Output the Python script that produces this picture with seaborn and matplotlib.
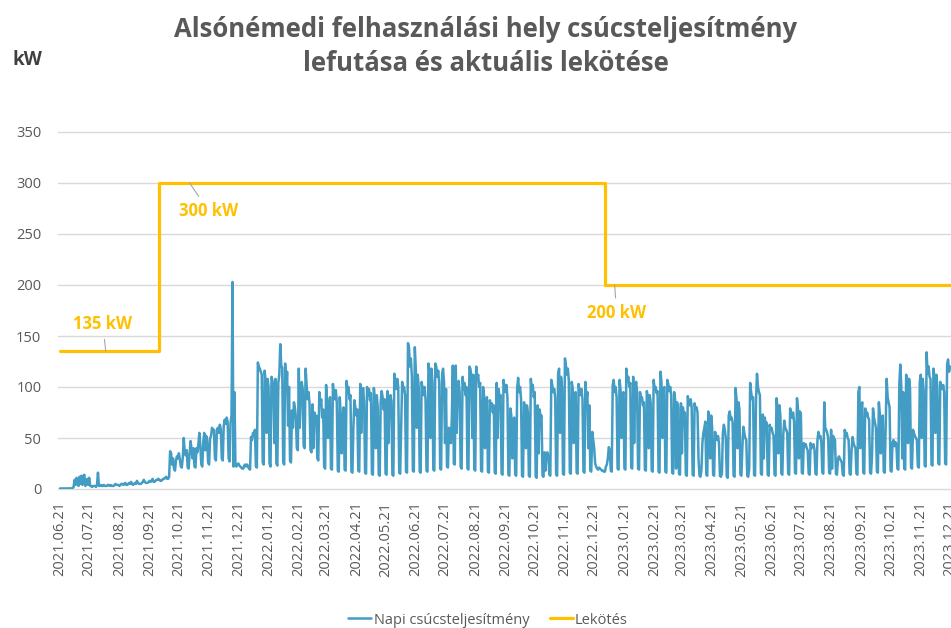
import numpy as np
import pandas as pd
import matplotlib
matplotlib.use("Agg")
import matplotlib.pyplot as plt
import matplotlib.dates as mdates
import seaborn as sns

# ---------------- data ----------------
title = "Alsónémedi felhasználási hely csúcsteljesítmény\nlefutása és aktuális lekötése"
series_names = ["Napi csúcsteljesítmény", "Lekötés"]
y_unit = "kW"
start_date = "2021-06-21"

# daily peak power (kW), one row = one week (Mon..Sun)
csucs_2021 = [
    0.5, 0.5, 0.5, 0.5, 0.5, 0.5, 0.5,
    0.5, 0.5, 0.5, 0.5, 0.5, 0.6, 1,
    2, 9, 4, 11, 6, 3, 12,
    5, 13, 4, 12, 14, 3, 8,
    10, 4, 11, 3, 3, 2, 3,
    3, 3, 2, 4, 16, 3, 3,
    4, 3, 3, 4, 3, 3, 3,
    4, 4, 3, 4, 3, 3, 3,
    4, 5, 4, 4, 4, 3, 4,
    5, 5, 4, 5, 6, 4, 4,
    5, 6, 5, 7, 5, 4, 5,
    6, 5, 8, 6, 5, 5, 5,
    6, 7, 9, 7, 6, 6, 6,
    7, 8, 7, 8, 10, 7, 7,
    8, 9, 9, 10, 9, 8, 8,
    9, 10, 10, 11, 12, 10, 10,
    12, 37, 35, 24, 30, 20, 18,
    28, 32, 30, 35, 29, 22, 21,
    31, 50, 36, 33, 38, 21, 20,
    35, 47, 38, 30, 40, 22, 21,
    40, 36, 44, 55, 42, 24, 22,
    46, 55, 38, 52, 48, 26, 24,
    50, 52, 60, 56, 58, 30, 28,
    58, 60, 55, 63, 59, 30, 28,
    62, 68, 64, 70, 66, 30, 27,
    65, 72, 203, 22, 95, 23, 22,
    24, 25, 23, 22, 21, 20, 20,
    23, 24, 22, 24, 22,
]
csucs_2022 = [
    20, 19,
    51, 48, 55, 53, 58, 22, 21,
    124, 120, 118, 115, 112, 26, 24,
    116, 104, 55, 108, 100, 25, 22,
    110, 106, 98, 45, 108, 25, 23,
    104, 112, 142, 121, 119, 26, 24,
    123, 96, 115, 62, 100, 28, 26,
    77, 60, 85, 80, 70, 40, 38,
    118, 60, 92, 105, 98, 42, 40,
    118, 102, 88, 95, 84, 38, 36,
    83, 40, 75, 68, 72, 30, 28,
    95, 82, 88, 70, 78, 22, 20,
    102, 85, 50, 80, 90, 20, 19,
    103, 92, 88, 97, 84, 18, 17,
    90, 74, 35, 68, 80, 19, 18,
    106, 95, 100, 88, 92, 17, 16,
    60, 87, 80, 72, 78, 18, 17,
    103, 55, 90, 99, 85, 16, 15,
    100, 92, 98, 87, 94, 15, 14,
    99, 88, 40, 92, 80, 14, 13,
    85, 96, 90, 78, 88, 15, 14,
    96, 45, 84, 92, 86, 14, 13,
    113, 105, 98, 108, 100, 16, 15,
    60, 105, 96, 100, 92, 17, 16,
    143, 139, 120, 128, 110, 18, 17,
    139, 118, 60, 112, 100, 17, 16,
    105, 98, 92, 100, 88, 18, 17,
    123, 115, 50, 118, 105, 19, 18,
    123, 120, 110, 116, 104, 20, 19,
    113, 118, 104, 45, 98, 22, 21,
    60, 55, 45, 70, 121, 25, 24,
    121, 55, 100, 106, 95, 22, 20,
    110, 98, 104, 92, 100, 20, 19,
    120, 118, 110, 50, 112, 19, 18,
    120, 108, 112, 100, 104, 18, 17,
    100, 92, 40, 85, 90, 17, 16,
    87, 80, 84, 75, 82, 16, 15,
    104, 50, 98, 88, 92, 15, 14,
    107, 100, 95, 102, 90, 14, 13,
    79, 72, 30, 68, 70, 14, 13,
    99, 109, 95, 100, 88, 13, 12,
    85, 80, 40, 82, 75, 13, 12,
    108, 98, 102, 90, 95, 12, 11,
    82, 35, 78, 70, 72, 13, 12,
    36, 18, 34, 36, 32, 14, 13,
    107, 102, 95, 98, 90, 14, 13,
    113, 118, 55, 110, 100, 15, 14,
    128, 121, 112, 118, 106, 16, 15,
    105, 98, 45, 92, 95, 16, 15,
    103, 96, 92, 98, 88, 17, 16,
    105, 87, 95, 40, 82, 18, 17,
    56, 48, 40, 25, 22, 20, 19,
    21, 20, 19, 18, 18, 17,
]
csucs_2023 = [
    17,
    22, 24, 30, 41, 38, 18, 17,
    102, 107, 95, 100, 90, 20, 19,
    107, 98, 50, 92, 95, 20, 19,
    118, 107, 110, 100, 104, 21, 20,
    110, 45, 98, 105, 95, 20, 19,
    95, 88, 90, 82, 85, 19, 18,
    96, 90, 40, 92, 84, 18, 17,
    107, 98, 100, 94, 96, 17, 16,
    115, 105, 50, 98, 100, 17, 16,
    107, 103, 96, 100, 92, 16, 15,
    95, 88, 20, 85, 80, 15, 14,
    84, 35, 80, 72, 75, 14, 13,
    91, 85, 82, 88, 80, 14, 13,
    84, 78, 80, 75, 30, 13, 12,
    19, 45, 55, 60, 66, 14, 13,
    76, 70, 30, 72, 60, 14, 13,
    56, 50, 48, 52, 45, 13, 12,
    15, 55, 63, 58, 50, 12, 11,
    72, 76, 68, 70, 65, 13, 12,
    99, 88, 40, 85, 78, 14, 13,
    41, 61, 55, 50, 48, 13, 12,
    20, 104, 95, 88, 90, 14, 13,
    87, 113, 100, 95, 92, 15, 14,
    73, 30, 70, 62, 65, 14, 13,
    63, 58, 60, 55, 52, 14, 13,
    89, 80, 35, 82, 72, 15, 14,
    54, 67, 60, 58, 55, 15, 14,
    79, 72, 70, 75, 66, 16, 15,
    89, 79, 30, 76, 74, 16, 15,
    45, 42, 44, 40, 38, 15, 14,
    45, 40, 42, 44, 38, 15, 14,
    48, 56, 50, 52, 46, 16, 15,
    85, 60, 58, 55, 50, 16, 15,
    58, 20, 52, 50, 48, 15, 14,
    29, 32, 30, 28, 26, 14, 13,
    58, 52, 55, 50, 48, 15, 14,
    38, 51, 45, 42, 40, 15, 14,
    95, 100, 40, 82, 85, 16, 15,
    79, 72, 75, 70, 68, 16, 15,
    33, 79, 70, 65, 60, 17, 16,
    85, 74, 35, 70, 72, 17, 16,
    64, 108, 90, 85, 80, 18, 17,
    45, 48, 42, 46, 44, 20, 19,
    103, 122, 100, 30, 95, 20, 19,
    112, 105, 45, 108, 98, 21, 20,
    58, 55, 52, 50, 48, 22, 21,
    105, 112, 50, 108, 96, 23, 22,
    134, 113, 120, 110, 108, 24, 23,
    118, 110, 55, 112, 100, 25, 24,
    105, 100, 98, 102, 95, 25, 24,
    122, 127, 115, 120,
]

# contracted capacity (step changes)
lekotes_dates = ["2021-06-21", "2021-10-01", "2023-01-01", "2023-12-21"]
lekotes_values = [135, 300, 200, 200]

# value labels on the contracted-capacity line
label_texts = ["135 kW", "300 kW", "200 kW"]
label_dates = ["2021-08-07", "2021-11-01", "2023-01-11"]
label_values = [135, 300, 200]

y_ticks = [0, 50, 100, 150, 200, 250, 300, 350]

# ---------------- styling ----------------
BLUE = "#439CC4"
YELLOW = "#FFC000"
GREY = "#595959"
GRID = "#D9D9D9"

sns.set_theme(style="white")
plt.rcParams["font.family"] = ["Open Sans", "DejaVu Sans"]

values = csucs_2021 + csucs_2022 + csucs_2023
dates = pd.date_range(start_date, periods=len(values), freq="D")
df = pd.DataFrame({"Dátum": dates, "kW": values})
lek = pd.DataFrame({"Dátum": pd.to_datetime(lekotes_dates), "kW": lekotes_values})

W, H = 951, 628
fig = plt.figure(figsize=(W / 100, H / 100), dpi=100)
ax = fig.add_axes([58 / W, 1 - 489 / H, 1 - 58 / W, (489 - 132) / H])

sns.lineplot(data=df, x="Dátum", y="kW", ax=ax, color=BLUE, lw=1.8,
             label=series_names[0])
sns.lineplot(data=lek, x="Dátum", y="kW", ax=ax, color=YELLOW, lw=2.3,
             drawstyle="steps-post", label=series_names[1])

ax.set_xlim(pd.Timestamp("2021-06-19"), pd.Timestamp("2023-12-22"))
ax.set_ylim(0, 350)
ax.set_yticks(y_ticks)
ax.set_xlabel("")
ax.set_ylabel("")
for s in ax.spines.values():
    s.set_visible(False)
ax.yaxis.grid(True, color=GRID, lw=1.0)
ax.xaxis.grid(False)
for gl in ax.get_ygridlines():
    gl.set_clip_on(False)
ax.set_axisbelow(True)

ax.xaxis.set_major_locator(mdates.DayLocator(bymonthday=21))
ax.xaxis.set_major_formatter(mdates.DateFormatter("%Y.%m.%d"))
ax.tick_params(axis="x", length=0, pad=9, labelsize=10.5, labelcolor=GREY,
               labelrotation=90)
ax.tick_params(axis="y", length=0, pad=12, labelsize=10.5, labelcolor=GREY)

# leader-line labels
offsets = [(-3, 27), (19, -28), (2, -28)]
for txt, d, v, off in zip(label_texts, label_dates, label_values, offsets):
    ax.annotate(txt, xy=(mdates.date2num(pd.Timestamp(d)), v), xytext=off,
                textcoords="offset pixels", ha="center", va="center",
                fontsize=12, fontweight="bold", color=YELLOW,
                arrowprops=dict(arrowstyle="-", color="#A6A6A6", lw=0.8,
                                shrinkA=2, shrinkB=0))

# title and unit
fig.text(486 / W, 1 - 46.5 / H, title, ha="center", va="center",
         fontsize=18.5, fontweight="bold", color=GREY, linespacing=1.32)
fig.text(12 / W, 1 - 60 / H, y_unit, ha="left", va="center",
         fontsize=13.5, fontweight="bold", color="#404040")

# legend
handles, labels = ax.get_legend_handles_labels()
ax.get_legend().remove()
leg = fig.legend(handles, labels, loc="center", bbox_to_anchor=(488 / W, 1 - 620 / H),
                 ncol=2, frameon=False, fontsize=10.5, handlelength=1.6,
                 handletextpad=0.15, columnspacing=1.4)
for t in leg.get_texts():
    t.set_color(GREY)

fig.savefig("out.png", dpi=100)
